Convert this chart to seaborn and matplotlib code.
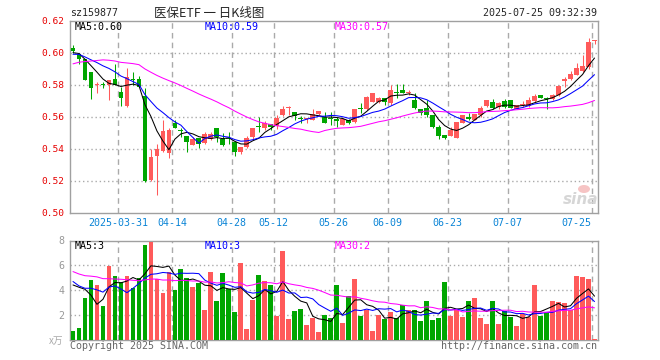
import matplotlib
matplotlib.use("Agg")
import matplotlib.pyplot as plt
from matplotlib.patches import Ellipse
import seaborn as sns
import numpy as np
import pandas as pd

# ---------------- DATA ----------------

holidays = ["2025-04-04", "2025-05-01", "2025-05-02", "2025-05-05", "2025-06-02"]

open_ = [0.603, 0.5994, 0.5963, 0.588, 0.5799, 0.580, 0.580, 0.5835, 0.5754, 0.5665,
         0.5835, 0.5833, 0.5727, 0.5204, 0.5354, 0.5385, 0.5373, 0.556, 0.5517, 0.5481,
         0.5425, 0.5465, 0.5433, 0.546, 0.5531, 0.546, 0.5467, 0.5444, 0.5379, 0.5408,
         0.5471, 0.5544, 0.5527, 0.5554, 0.554, 0.561, 0.5654, 0.5627, 0.559, 0.5583,
         0.5579, 0.5615, 0.560, 0.559, 0.5583, 0.5548, 0.5579, 0.5569, 0.565, 0.5646,
         0.5694, 0.5694, 0.5715, 0.5683, 0.5755, 0.5767, 0.575, 0.5704, 0.5646, 0.5652,
         0.561, 0.5533, 0.5485, 0.5481, 0.5465, 0.5563, 0.5596, 0.5579, 0.561, 0.5667,
         0.5694, 0.5658, 0.5696, 0.5702, 0.5648, 0.5673, 0.5665, 0.5696, 0.5733, 0.5719,
         0.5708, 0.5733, 0.5821, 0.5833, 0.5863, 0.5883, 0.591, 0.6071]
high = [0.6046, 0.600, 0.5963, 0.588, 0.5815, 0.5815, 0.5827, 0.5927, 0.5785, 0.5906,
        0.5877, 0.5856, 0.5779, 0.540, 0.5427, 0.5577, 0.5531, 0.5577, 0.5527, 0.5481,
        0.5471, 0.5465, 0.5506, 0.5506, 0.5531, 0.5496, 0.5506, 0.545, 0.5412, 0.5477,
        0.5531, 0.5596, 0.5575, 0.5554, 0.561, 0.5665, 0.5667, 0.5627, 0.5606, 0.559,
        0.5646, 0.5635, 0.5627, 0.5627, 0.5596, 0.559, 0.5583, 0.5646, 0.5683, 0.5729,
        0.575, 0.5725, 0.5715, 0.5798, 0.5804, 0.5804, 0.5767, 0.5746, 0.5646, 0.5704,
        0.561, 0.5548, 0.5485, 0.5533, 0.5569, 0.561, 0.5625, 0.5615, 0.5667, 0.5704,
        0.5708, 0.569, 0.5713, 0.5702, 0.5671, 0.5696, 0.5723, 0.5744, 0.5733, 0.572,
        0.5744, 0.580, 0.5848, 0.5883, 0.5938, 0.5983, 0.6092, 0.6077]
low = [0.600, 0.593, 0.583, 0.571, 0.5746, 0.5778, 0.5702, 0.5796, 0.5667, 0.5662,
       0.5796, 0.5785, 0.5192, 0.520, 0.511, 0.538, 0.5344, 0.5527, 0.5471, 0.5377,
       0.5425, 0.5402, 0.5429, 0.5452, 0.544, 0.5419, 0.5429, 0.5356, 0.5367, 0.5402,
       0.5456, 0.5502, 0.5517, 0.5519, 0.5523, 0.5606, 0.561, 0.5579, 0.5558, 0.5558,
       0.5579, 0.561, 0.5558, 0.5548, 0.5535, 0.5548, 0.5556, 0.5563, 0.5621, 0.5642,
       0.5694, 0.5683, 0.5673, 0.5673, 0.5715, 0.575, 0.5735, 0.5646, 0.561, 0.560,
       0.5527, 0.5458, 0.5458, 0.5481, 0.5465, 0.5563, 0.5579, 0.5579, 0.560, 0.5658,
       0.5646, 0.5646, 0.5654, 0.5654, 0.5648, 0.566, 0.566, 0.5692, 0.5717, 0.5646,
       0.5702, 0.5729, 0.5785, 0.5827, 0.5858, 0.5879, 0.590, 0.6056]
close = [0.601, 0.5963, 0.5831, 0.578, 0.5806, 0.5796, 0.5827, 0.5796, 0.5717, 0.5848,
         0.5827, 0.5785, 0.5196, 0.5348, 0.5396, 0.551, 0.5515, 0.5527, 0.5512, 0.5444,
         0.546, 0.5429, 0.5492, 0.5492, 0.5471, 0.5425, 0.546, 0.5377, 0.5412, 0.5465,
         0.5531, 0.5537, 0.556, 0.5533, 0.5594, 0.5648, 0.5658, 0.5606, 0.5583, 0.559,
         0.5615, 0.5635, 0.5563, 0.5583, 0.5575, 0.5583, 0.5563, 0.5646, 0.5646, 0.5725,
         0.5746, 0.5715, 0.569, 0.5767, 0.575, 0.575, 0.5754, 0.5652, 0.5625, 0.561,
         0.5538, 0.5481, 0.5465, 0.5517, 0.5565, 0.561, 0.5588, 0.5615, 0.5656, 0.5704,
         0.5656, 0.5683, 0.566, 0.5654, 0.5671, 0.5679, 0.5702, 0.5727, 0.5717, 0.5713,
         0.5733, 0.579, 0.5838, 0.5869, 0.5904, 0.5915, 0.6067, 0.6077]
# volume in 万手
volume = [0.72, 0.99, 3.38, 4.83, 4.43, 2.74, 5.96, 5.15, 4.70, 5.15,
          4.16, 4.97, 7.65, 7.89, 4.89, 3.79, 5.50, 4.03, 5.72, 4.99,
          4.27, 4.62, 2.42, 5.48, 3.14, 5.40, 4.08, 2.25, 6.20, 0.89,
          3.22, 5.23, 4.75, 4.43, 1.93, 7.17, 1.69, 2.34, 2.50, 1.21,
          1.80, 0.64, 2.01, 1.80, 4.43, 1.37, 3.54, 4.91, 1.93, 2.42,
          0.72, 2.01, 1.69, 2.25, 1.77, 2.82, 2.42, 2.42, 1.53, 3.14,
          1.61, 1.77, 4.67, 1.96, 2.42, 1.85, 3.14, 3.38, 1.77, 1.29,
          3.14, 1.29, 2.34, 1.85, 1.13, 2.09, 1.85, 4.43, 1.93, 2.17,
          3.14, 3.06, 2.98, 2.42, 5.15, 5.07, 4.91, 0.08]

# sessions before the window, only used to seed the moving averages
prior_close = [0.566, 0.570, 0.568, 0.571, 0.5676, 0.590, 0.594, 0.597, 0.596, 0.595,
               0.598, 0.600, 0.597, 0.599, 0.602, 0.598, 0.596, 0.600, 0.598, 0.5974,
               0.597, 0.599, 0.596, 0.598, 0.600, 0.599, 0.601, 0.598, 0.601]
prior_volume = [6.8, 7.5, 5.9, 6.2, 7.0, 6.1, 6.0, 5.2, 6.3, 5.5,
                6.0, 5.7, 5.8, 5.0, 6.1, 5.3, 5.6, 4.9, 5.7, 5.4,
                4.5, 5.3, 4.8, 5.75, 4.55, 1.9, 4.2, 7.2, 8.1]

tick_labels = ["2025-03-31", "04-14", "04-28", "05-12", "05-26", "06-09", "06-23", "07-07", "07-25"]
price_ticks = [0.50, 0.52, 0.54, 0.56, 0.58, 0.60, 0.62]
vol_ticks = [2, 4, 6, 8]

# ---------------- PREP ----------------

RED = "#ff5a5a"
GREEN = "#00a600"
GRID = "#aaaaaa"
MONO = "DejaVu Sans Mono"
LW = 0.75

dates = pd.bdate_range("2025-03-19", "2025-07-25")
dates = dates[~dates.isin(pd.to_datetime(holidays))]

df = pd.DataFrame({"date": dates, "open": open_, "high": high, "low": low,
                   "close": close, "volume": volume})
df["idx"] = np.arange(len(df))
df["dir"] = np.where(df["close"] >= df["open"], "up", "down")

full_c = pd.Series(prior_close + close)
full_v = pd.Series(prior_volume + volume)
n0 = len(prior_close)
for n in (5, 10, 30):
    df[f"ma{n}"] = full_c.rolling(n).mean().iloc[n0:].values
    df[f"vma{n}"] = full_v.rolling(n).mean().iloc[n0:].values

day_str = df["date"].dt.strftime("%Y-%m-%d")
tick_pos = [int(np.where(day_str.str.endswith(t))[0][0]) - 0.5 for t in tick_labels]

# ---------------- FIGURE ----------------

sns.set_style("white")
plt.rcParams["font.family"] = [MONO, "Noto Sans CJK SC"]

fig = plt.figure(figsize=(6.6, 3.6), dpi=100)
ax = fig.add_axes([70 / 660, 1 - 212.5 / 360, 527.5 / 660, 191.8 / 360])
axv = fig.add_axes([70 / 660, 1 - 340 / 360, 527.5 / 660, 99.5 / 360])

colors = np.where(df["dir"] == "up", RED, GREEN)

# candles
ax.vlines(df["idx"], df["low"], df["high"], colors=colors, linewidth=LW, zorder=3)
body_lo = np.minimum(df["open"], df["close"])
body_h = np.maximum((df["close"] - df["open"]).abs(), 0.0006)
ax.bar(df["idx"], body_h, bottom=body_lo, width=0.8, color=colors, linewidth=0, zorder=3)

sns.lineplot(data=df, x="idx", y="ma5", color="black", linewidth=LW, ax=ax, zorder=4)
sns.lineplot(data=df, x="idx", y="ma10", color="#0000ff", linewidth=LW, ax=ax, zorder=4)
sns.lineplot(data=df, x="idx", y="ma30", color="#ff00ff", linewidth=LW, ax=ax, zorder=4)

# volume
sns.barplot(data=df, x="idx", y="volume", hue="dir", palette={"up": RED, "down": GREEN},
            native_scale=True, dodge=False, width=0.8, saturation=1, linewidth=0,
            legend=False, ax=axv, zorder=3)
sns.lineplot(data=df, x="idx", y="vma5", color="black", linewidth=LW, ax=axv, zorder=4)
sns.lineplot(data=df, x="idx", y="vma10", color="#0000ff", linewidth=LW, ax=axv, zorder=4)
sns.lineplot(data=df, x="idx", y="vma30", color="#ff00ff", linewidth=LW, ax=axv, zorder=4)

for a in (ax, axv):
    a.set_xlim(-0.5, len(df) - 0.5)
    a.set_xlabel("")
    a.set_ylabel("")
    for s in a.spines.values():
        s.set_color("#a0a0a0")
        s.set_linewidth(1)
    for p in tick_pos:
        a.axvline(p, color=GRID, linewidth=1, linestyle=(0, (4, 3)), zorder=1)
    a.tick_params(length=0)

ax.set_ylim(0.50, 0.62)
ax.set_yticks(price_ticks)
ax.set_yticklabels([f"{t:.2f}" for t in price_ticks], color="#e60000", fontsize=6.8)
for t in price_ticks[1:-1]:
    ax.axhline(t, color=GRID, linewidth=1, linestyle=(0, (1, 2)), zorder=1)
ax.set_xticks(tick_pos)
ax.set_xticklabels(tick_labels, color="#0a84d6", fontsize=7.2)
# the last date label sits to the left of its grid line
ax.get_xticklabels()[-1].set_horizontalalignment("right")
ax.tick_params(axis="y", pad=4)
ax.tick_params(axis="x", pad=4)

axv.set_ylim(0, 8)
axv.set_yticks(vol_ticks)
axv.set_yticklabels([str(t) for t in vol_ticks], color="#999999", fontsize=7.2)
axv.tick_params(axis="y", pad=4)
axv.set_xticks([])
for t in vol_ticks[:-1]:
    axv.axhline(t, color=GRID, linewidth=1, linestyle=(0, (1, 2)), zorder=1)

# ---------------- TEXTS ----------------

def fx(px):
    return px / 660


def fy(py):
    return 1 - py / 360


last = df.iloc[-1]
fig.text(fx(70), fy(13.5), "sz159877", ha="left", va="center", fontsize=7.2)
fig.text(fx(209), fy(13.5), "医保ETF 一 日K线图", ha="center", va="center", fontsize=9,
         family=["Noto Sans CJK SC", "DejaVu Sans"])
fig.text(fx(597), fy(13.5), "2025-07-25 09:32:39", ha="right", va="center", fontsize=7.2)

fig.text(fx(75), fy(26.5), f"MA5:{last['ma5']:.2f}", color="black", va="center", fontsize=7.2)
fig.text(fx(205), fy(26.5), f"MA10:{last['ma10']:.2f}", color="#0000ff", va="center", fontsize=7.2)
fig.text(fx(335), fy(26.5), f"MA30:{last['ma30']:.2f}", color="#ff00ff", va="center", fontsize=7.2)

fig.text(fx(75), fy(246), f"MA5:{int(last['vma5'])}", color="black", va="center", fontsize=7.2)
fig.text(fx(205), fy(246), f"MA10:{int(last['vma10'])}", color="#0000ff", va="center", fontsize=7.2)
fig.text(fx(335), fy(246), f"MA30:{int(last['vma30'])}", color="#ff00ff", va="center", fontsize=7.2)

fig.text(fx(56), fy(340.5), "x万", ha="center", va="center", color="#aaaaaa", fontsize=7,
         family=["Noto Sans CJK SC", "DejaVu Sans"])
fig.text(fx(70), fy(346), "Copyright 2025 SINA.COM", ha="left", va="center", color="#666666",
         fontsize=7.2)
fig.text(fx(597), fy(346), "http://finance.sina.com.cn", ha="right", va="center",
         color="#666666", fontsize=7.2)

# sina watermark
fig.patches.append(Ellipse((fx(584), fy(189)), 12 / 660, 8 / 360, transform=fig.transFigure,
                           facecolor="#f6c4c4", edgecolor="none", zorder=5))
fig.text(fx(581), fy(200), "sina", ha="center", va="center", color="#d6d6d6", fontsize=11,
         fontweight="bold", style="italic", family="DejaVu Sans", zorder=6)

fig.savefig("out.png", dpi=100)
